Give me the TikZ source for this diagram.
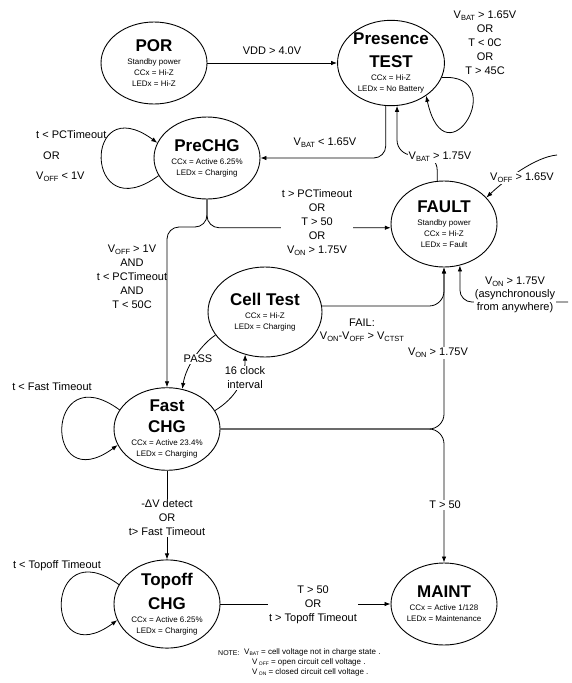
\documentclass[tikz,border=0pt]{standalone}
\usepackage{fontspec}
\setmainfont{Liberation Sans}
\usepackage{tikz}
\usetikzlibrary{shapes.geometric,arrows.meta}

\newcommand{\stitle}[1]{{\fontsize{17}{20}\selectfont\bfseries #1}}
\newcommand{\sub}[1]{\raisebox{-0.35ex}{\fontsize{7.5}{8}\selectfont #1}}
\newcommand{\nsub}[1]{\raisebox{-0.3ex}{\fontsize{5}{5}\selectfont #1}}

\tikzset{
  chgstate/.style={ellipse, draw, line width=0.9pt, minimum width=106pt, minimum height=82pt, inner sep=0pt, align=center, font=\fontsize{8}{11}\selectfont},
  lbl/.style={font=\fontsize{11}{14}\selectfont, align=center, inner sep=1pt},
  lblw/.style={lbl, fill=white},
  trans/.style={->, line width=0.8pt},
  >={Latex[length=6pt,width=4.5pt]}
}

\begin{document}
\begin{tikzpicture}[x=1pt,y=1pt,yscale=-1]
\useasboundingbox (0,0) rectangle (571,683);

%Shape: Ellipse [states]
\node[chgstate] (POR) at (154,63) {\stitle{POR}\\[2pt] Standby power\\ CCx = Hi-Z\\ LEDx = Hi-Z};
\node[chgstate, minimum width=104pt, minimum height=84pt] (PT) at (391,63) {\stitle{Presence}\\[10pt] \stitle{TEST}\\[2pt] CCx = Hi-Z\\ LEDx = No Battery};
\node[chgstate] (PRE) at (207,158) {\stitle{PreCHG}\\[2pt] CCx = Active 6.25\%\\ LEDx = Charging};
\node[chgstate, minimum height=86pt] (FLT) at (444,224) {\stitle{FAULT}\\[2pt] Standby power\\ CCx = Hi-Z\\ LEDx = Fault};
\node[chgstate, minimum width=114pt, minimum height=90pt] (CT) at (265,312) {\stitle{Cell Test}\\[2pt] CCx = Hi-Z\\ LEDx = Charging};
\node[chgstate] (FAST) at (167,429) {\stitle{Fast}\\[8pt] \stitle{CHG}\\[2pt] CCx = Active 23.4\%\\ LEDx = Charging};
\node[chgstate] (TOP) at (167,604) {\stitle{Topoff}\\[8pt] \stitle{CHG}\\[2pt] CCx = Active 6.25\%\\ LEDx = Charging};
\node[chgstate] (MNT) at (444,604) {\stitle{MAINT}\\[2pt] CCx = Active 1/128\\ LEDx = Maintenance};

%Straight Lines
\draw[trans] (POR.east) -- (PT.west);
\draw[trans, rounded corners=12pt] (PT.263) |- (PRE.east);
\draw[trans, rounded corners=15pt] (FLT.99) |- (397,155) -- (PT.278);
\draw[trans, rounded corners=12pt] (PRE.south) |- (167,227) -- (FAST.north);
\draw[trans, rounded corners=12pt] (PRE.south) |- (FLT.184);
\draw[trans, rounded corners=15pt] (CT.6) -| (FLT.south);
\draw[trans, rounded corners=15pt] (FAST.east) -| (FLT.south);
\draw[trans, rounded corners=15pt] (FAST.east) -| (MNT.north);
\draw[trans] (FAST.south) -- (TOP.north);
\draw[trans] (TOP.east) -- (MNT.west);

%Curve Lines
\coordinate (anywhere) at (568,302);
\coordinate (offside) at (557,155);
\draw[trans, rounded corners=12pt] (anywhere) -| (FLT.-69);
\draw[trans] (offside) .. controls (535,157) and (505,180) .. (FLT.32);
\draw[trans] (CT.205) .. controls (203,343) and (186,365) .. (FAST.69);
\draw[trans] (FAST.21) .. controls (235,398) and (245,382) .. (CT.245);

%Curve Lines [self loops]
\draw[trans] (PT.-16) .. controls +(70,-5) and +(20,90) .. (PT.-43);
\draw[trans] (PRE.200) .. controls +(-75,55) and +(-75,-55) .. (PRE.163);
\draw[trans] (FAST.158) .. controls +(-75,-55) and +(-75,55) .. (FAST.198);
\draw[trans] (TOP.158) .. controls +(-75,-55) and +(-75,55) .. (TOP.198);

% Text Node
\node[lbl] (vdd) at (272,51) {VDD > 4.0V};
\node[lbl] (ptloop) at (485,43) {V\sub{BAT} > 1.65V\\ OR\\ T < 0C\\ OR\\ T > 45C};
\node[lbl] (vbatlo) at (325,143) {V\sub{BAT} < 1.65V};
\node[lblw] (vbathi) at (440,157) {V\sub{BAT} > 1.75V};
\node[lblw] (voff) at (522,178) {V\sub{OFF} > 1.65V};
\node[lbl, anchor=west] (preloopa) at (35,135) {t < PCTimeout};
\node[lbl, anchor=west] (preloopb) at (42,156) {OR};
\node[lbl, anchor=west] (preloopc) at (35,177) {V\sub{OFF} < 1V};
\node[lblw] (tofault) at (317,223) {t > PCTimeout\\ OR\\ T > 50\\ OR\\ V\sub{ON} > 1.75V};
\node[lbl] (tofast) at (132,277) {V\sub{OFF} > 1V\\ AND\\ t < PCTimeout\\ AND\\ T < 50C};
\node[lblw, font=\fontsize{11}{13}\selectfont] (async) at (515,295) {V\sub{ON} > 1.75V\\ (asynchronously\\ from anywhere)};
\node[lbl, font=\fontsize{11}{13}\selectfont] (fail) at (362,330) {FAIL:\\ V\sub{ON}-V\sub{OFF} > V\sub{CTST}};
\node[lblw] (pass) at (198,359) {PASS};
\node[lblw] (clock) at (245,378) {16 clock\\ interval};
\node[lblw] (vonhi) at (438,353) {V\sub{ON} > 1.75V};
\node[lbl] (fastloop) at (52,387) {t < Fast Timeout};
\node[lblw] (totop) at (167,518) {-ΔV detect\\ OR\\ t> Fast Timeout};
\node[lblw] (tmaint) at (445,505) {T > 50};
\node[lbl] (toploop) at (57,566) {t < Topoff Timeout};
\node[lblw] (tomaint) at (313,605) {T > 50\\ OR\\ t > Topoff Timeout};

% Text Node [note]
\node[anchor=west, inner sep=0pt, font=\fontsize{7}{10}\selectfont] (notehead) at (218,653) {NOTE:};
\node[anchor=north west, inner sep=0pt, align=left, font=\fontsize{8}{10}\selectfont] (notebody) at (244,648) {V\nsub{BAT} = cell voltage not in charge state .\\ \hspace{8pt}V\,\nsub{OFF} = open circuit cell voltage .\\ \hspace{8pt}V\,\nsub{ON} = closed circuit cell voltage .};

\end{tikzpicture}
\end{document}
